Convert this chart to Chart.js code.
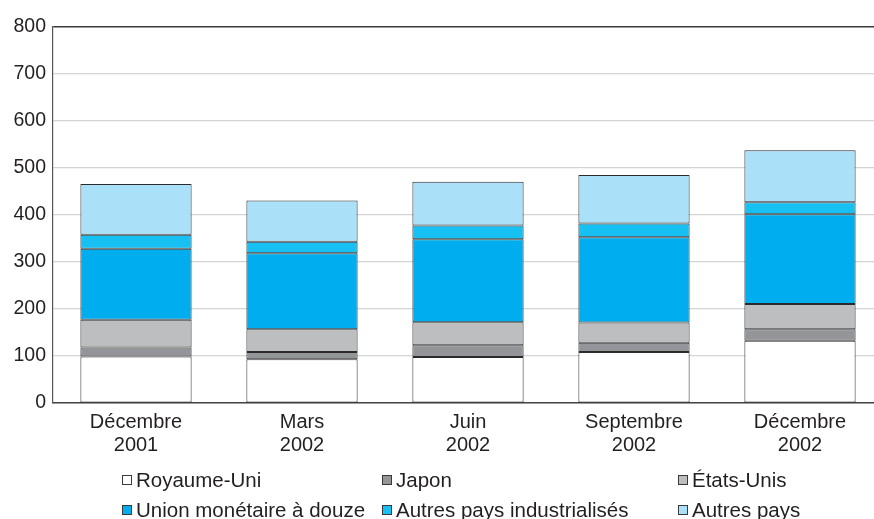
<!DOCTYPE html>
<html>
<head>
<meta charset="utf-8">
<script src="https://cdn.jsdelivr.net/npm/chart.js@4/dist/chart.umd.min.js"></script>
<style>
  html, body { margin: 0; padding: 0; background: #fff; overflow: hidden; }
  #chartCanvas { display: block; }
</style>
</head>
<body>
<canvas id="chartCanvas" width="884" height="519" style="width:884px;height:519px"></canvas>
<script>
const categories = [['Décembre', '2001'], ['Mars', '2002'], ['Juin', '2002'], ['Septembre', '2002'], ['Décembre', '2002']];
const seriesNames = ['Royaume-Uni', 'Japon', 'États-Unis', 'Union monétaire à douze', 'Autres pays industrialisés', 'Autres pays'];
const royaumeUni = [99, 93, 98, 108.5, 132.5];
const japon = [19, 15.5, 25, 19.5, 24.5];
const etatsUnis = [59, 48.5, 49, 43.5, 53.5];
const unionMonetaire = [151, 161.5, 176.5, 181, 191];
const autresIndustrialises = [30, 24.5, 29, 29.5, 25.5];
const autresPays = [108, 88, 93, 103, 111];
const yTicks = [0, 100, 200, 300, 400, 500, 600, 700, 800];

const colors = ['#ffffff', '#939598', '#bcbec0', '#00aeef', '#16c0f2', '#abe0f9'];
const seriesValues = [royaumeUni, japon, etatsUnis, unionMonetaire, autresIndustrialises, autresPays];
const fontFamily = '"Liberation Sans", Arial, sans-serif';
const textColor = '#231f20';

// legend drawn as a 3-column grid like the original
const gridLegend = {
  id: 'gridLegend',
  afterDraw(chart) {
    const ctx = chart.ctx;
    const colX = [122, 382, 678];
    const rowY = [480, 510];
    ctx.save();
    ctx.font = '20.5px ' + fontFamily;
    ctx.textBaseline = 'middle';
    chart.data.datasets.forEach((ds, i) => {
      const x = colX[i % 3];
      const y = rowY[Math.floor(i / 3)];
      ctx.fillStyle = ds.backgroundColor;
      ctx.fillRect(x, y - 5, 10, 10);
      ctx.strokeStyle = '#3a3a3a';
      ctx.lineWidth = 1;
      ctx.strokeRect(x + 0.5, y - 4.5, 9, 9);
      ctx.fillStyle = textColor;
      ctx.fillText(ds.label, x + 14, y + 1);
    });
    ctx.restore();
  }
};

const ctx = document.getElementById('chartCanvas').getContext('2d');
const chart = new Chart(ctx, {
  type: 'bar',
  data: {
    labels: categories,
    datasets: seriesNames.map((name, i) => ({
      label: name,
      data: seriesValues[i],
      backgroundColor: colors[i],
      borderColor: '#2b2b2b',
      borderWidth: 1,
      borderSkipped: false,
      barPercentage: 0.67,
      categoryPercentage: 1
    }))
  },
  options: {
    responsive: false,
    animation: false,
    devicePixelRatio: 1,
    layout: { padding: { top: 27, right: 1, left: 0, bottom: 0 } },
    plugins: {
      legend: { display: false },
      tooltip: { enabled: false }
    },
    scales: {
      x: {
        stacked: true,
        grid: { display: false, drawTicks: false },
        border: { display: true, color: '#444', width: 1.5 },
        ticks: {
          color: textColor,
          font: { family: fontFamily, size: 20, lineHeight: 1.15 },
          padding: 8,
          maxRotation: 0,
          autoSkip: false
        },
        afterFit(scale) { scale.height = 116; }
      },
      y: {
        stacked: true,
        min: 0,
        max: 800,
        afterBuildTicks(scale) { scale.ticks = yTicks.map(v => ({ value: v })); },
        grid: {
          drawTicks: false,
          color: c => c.tick && c.tick.value === 800 ? '#3a3a3a' : '#d4d4d4',
          lineWidth: c => c.tick && c.tick.value === 800 ? 1.5 : 1.2
        },
        border: { display: true, color: '#555', width: 1.2 },
        ticks: {
          color: textColor,
          font: { family: fontFamily, size: 19.5 },
          padding: 7
        },
        afterFit(scale) { scale.width = 53; }
      }
    }
  },
  plugins: [gridLegend]
});
</script>
</body>
</html>
